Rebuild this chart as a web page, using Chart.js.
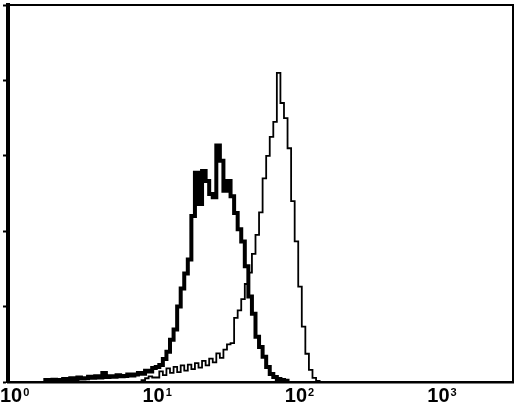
<!DOCTYPE html>
<html>
<head>
<meta charset="utf-8">
<script src="https://cdn.jsdelivr.net/npm/chart.js@4/dist/chart.umd.min.js"></script>
<style>
  body { margin: 0; background: #fff; }
  canvas { display: block; }
</style>
</head>
<body>
<canvas id="histChart" width="520" height="405"></canvas>
<script>
// fluorescence channel centres (log bins)
const binValues = [
  1.664, 1.763, 1.867, 1.978, 2.095, 2.219, 2.351, 2.490, 2.638, 2.794,
  2.959, 3.134, 3.320, 3.518, 3.725, 3.946, 4.180, 4.428, 4.690, 4.969,
  5.263, 5.574, 5.904, 6.255, 6.626, 7.017, 7.433, 7.874, 8.340, 8.835,
  9.359, 9.913, 10.50, 11.12, 11.78, 12.48, 13.22, 14.01, 14.84, 15.71,
  16.64, 17.63, 18.67, 19.78, 20.95, 22.19, 23.51, 24.90, 26.38, 27.94,
  29.59, 31.34, 33.20, 35.18, 37.25, 39.46, 41.80, 44.28, 46.90, 49.69,
  52.63, 55.74, 59.04, 62.55, 66.26, 70.17, 74.33, 78.74, 83.40, 88.35,
  93.59, 99.13, 105.0, 111.2, 117.8, 124.8, 132.2, 140.1, 148.4, 157.1, 166.4
];

// thick histogram (control)
const thickCounts = [
  0, 0.5, 0.3, 0.6, 0.4, 0.5, 0.8, 0.5, 1.0, 0.8,
  1.2, 0.9, 1.0, 1.4, 1.1, 1.5, 1.2, 2.4, 1.3, 1.5,
  1.4, 1.8, 1.5, 1.6, 2.0, 1.7, 2.0, 2.4, 2.2, 3.0,
  2.8, 3.7, 4.0, 4.5, 6.1, 8.0, 11.2, 13.9, 20, 24.8,
  28.8, 32.5, 44, 55.5, 47.2, 56, 53.3, 49.9, 49, 62.7,
  58.7, 50.7, 53.3, 49.3, 44.8, 40.5, 37.3, 30.7, 22.7, 18.1,
  12, 9.3, 6.7, 4, 2.1, 1.3, 0.8, 0.5, 0.3, 0,
  null, null, null, null, null, null, null, null, null, null, null
];

// thin histogram (stained)
const thinCounts = [
  null, null, null, null, null, null, null, null, null, null,
  null, null, null, null, null, null, null, null, null, null,
  null, null, null, null, null, null, null, 0, 0.5, 1.0,
  1.5, 1.2, 1.2, 2.8, 1.8, 3.6, 2.4, 4.0, 2.6, 4.4,
  3.0, 4.6, 3.4, 5.0, 3.8, 5.6, 4.4, 6.2, 5.2, 7.6,
  6.4, 8.6, 10, 10.3, 17, 19, 22, 26, 29, 34,
  39, 45, 54, 60, 65, 69, 82, 74, 70, 62,
  48, 37.3, 25.3, 14.7, 7.5, 3.2, 1.1, 0.3, 0, null, null
];

const tickValues = [1, 10, 100, 1000];
const tickExponents = ['0', '1', '2', '3'];

const toPoints = counts => binValues.map((x, i) => ({ x: x, y: counts[i] }));

// frame on top/right plus the 10^n labels under the x axis
const framePlugin = {
  id: 'frame',
  afterDraw(chart) {
    const ctx = chart.ctx;
    const area = chart.chartArea;
    const xs = chart.scales.x;
    ctx.save();
    ctx.strokeStyle = '#000';
    ctx.lineWidth = 2;
    ctx.beginPath();
    ctx.moveTo(area.left, area.top);
    ctx.lineTo(area.right, area.top);
    ctx.lineTo(area.right, area.bottom);
    ctx.stroke();

    ctx.fillStyle = '#000';
    ctx.textBaseline = 'alphabetic';
    tickValues.forEach((v, i) => {
      const px = xs.getPixelForValue(v);
      ctx.font = 'bold 20px "Liberation Sans"';
      ctx.textAlign = 'center';
      ctx.fillText('10', px - 1, 402);
      const w = ctx.measureText('10').width;
      ctx.font = 'bold 11px "Liberation Sans"';
      ctx.textAlign = 'left';
      ctx.fillText(tickExponents[i], px + w / 2, 396);
    });
    ctx.restore();
  }
};

new Chart(document.getElementById('histChart'), {
  type: 'line',
  data: {
    datasets: [
      {
        label: 'control',
        data: toPoints(thickCounts),
        borderColor: '#000',
        borderWidth: 4,
        stepped: 'middle',
        pointRadius: 0,
        spanGaps: false
      },
      {
        label: 'stained',
        data: toPoints(thinCounts),
        borderColor: '#000',
        borderWidth: 1.8,
        stepped: 'middle',
        pointRadius: 0,
        spanGaps: false
      }
    ]
  },
  options: {
    responsive: false,
    animation: false,
    layout: { padding: { left: 3, right: 7, top: 5, bottom: 23 } },
    plugins: { legend: { display: false }, tooltip: { enabled: false } },
    scales: {
      x: {
        type: 'logarithmic',
        min: 0.937,
        max: 3281,
        grid: { display: false, drawTicks: false },
        ticks: { display: false },
        border: { display: true, color: '#000', width: 2.5 }
      },
      y: {
        min: 0,
        max: 100,
        ticks: { display: false, stepSize: 20 },
        grid: {
          display: true,
          drawOnChartArea: false,
          drawTicks: true,
          tickLength: 5,
          tickWidth: 2,
          tickColor: '#000'
        },
        border: { display: true, color: '#000', width: 4 }
      }
    }
  },
  plugins: [framePlugin]
});
</script>
</body>
</html>
